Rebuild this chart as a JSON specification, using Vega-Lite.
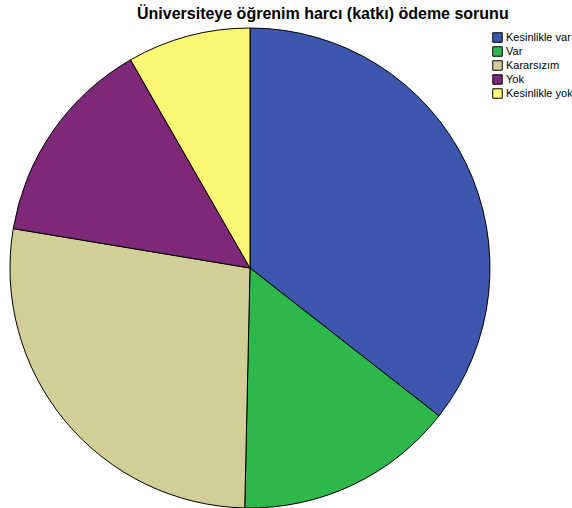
{
  "$schema": "https://vega.github.io/schema/vega-lite/v6.json",
  "width": 572,
  "height": 508,
  "padding": 0,
  "autosize": {"type": "none"},
  "background": "white",
  "title": {
    "text": "Üniversiteye öğrenim harcı (katkı) ödeme sorunu",
    "anchor": "start",
    "dx": 137,
    "offset": -22,
    "font": "Liberation Sans",
    "fontSize": 16,
    "fontWeight": "bold",
    "color": "black"
  },
  "data": {
    "values": [
      {"cevap": "Kesinlikle var", "yuzde": 35.6, "sira": 1},
      {"cevap": "Var", "yuzde": 14.8, "sira": 2},
      {"cevap": "Kararsızım", "yuzde": 27.3, "sira": 3},
      {"cevap": "Yok", "yuzde": 14.1, "sira": 4},
      {"cevap": "Kesinlikle yok", "yuzde": 8.3, "sira": 5}
    ]
  },
  "mark": {"type": "arc", "x": 250, "y": 268, "outerRadius": 240, "stroke": "black", "strokeWidth": 1},
  "encoding": {
    "theta": {"field": "yuzde", "type": "quantitative", "stack": true},
    "order": {"field": "sira", "type": "quantitative"},
    "color": {
      "field": "cevap",
      "type": "nominal",
      "sort": ["Kesinlikle var", "Var", "Kararsızım", "Yok", "Kesinlikle yok"],
      "scale": {
        "domain": ["Kesinlikle var", "Var", "Kararsızım", "Yok", "Kesinlikle yok"],
        "range": ["#3d57ae", "#2eb84b", "#d3ce97", "#7e2878", "#fdf776"]
      },
      "legend": {
        "title": null,
        "orient": "none",
        "legendX": 492,
        "legendY": 32,
        "symbolType": "square",
        "symbolSize": 90,
        "symbolStrokeColor": "black",
        "symbolStrokeWidth": 1,
        "labelFont": "Liberation Sans",
        "labelFontSize": 11,
        "labelColor": "black",
        "labelOffset": 3,
        "rowPadding": -1,
        "symbolOpacity": 1
      }
    }
  }
}
